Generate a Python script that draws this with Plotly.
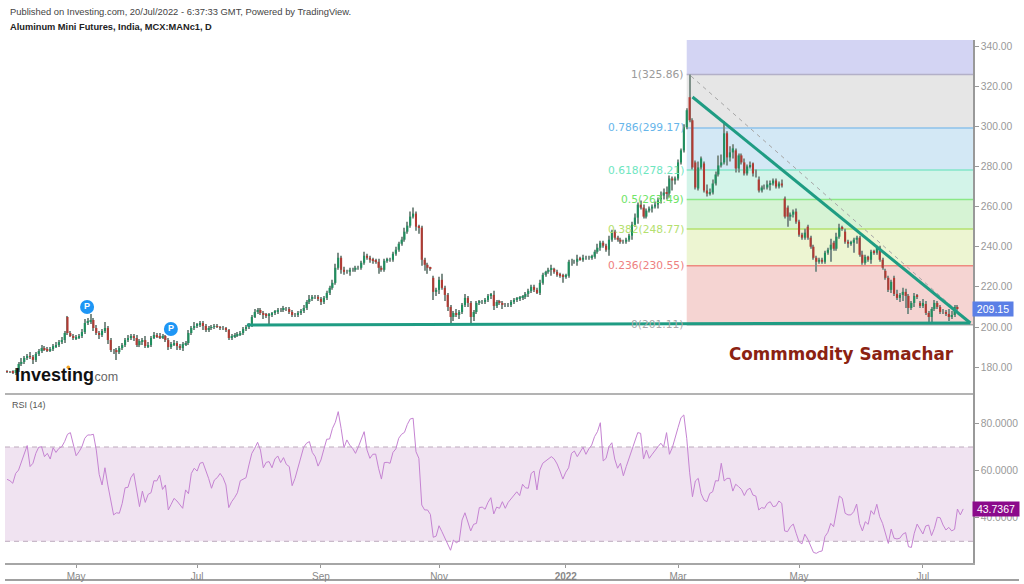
import numpy as np
import plotly.graph_objects as go

# ---- data -----------------------------------------------------------------
closes = [
 177.6,177.6,177.1,178.6,181.6,182.6,184.6,185.5,185.1,183.6,
 186.6,188,189.5,189,188.5,189,190.5,191,192.5,193.5,
 197,197,195.5,194.5,195,195.5,197.5,202,202.5,203.5,
 199.5,197,196,198,199.5,193.5,188.5,188.5,187.5,189.5,
 191,193.5,194.5,195.5,194.5,191,193,193.5,190.5,191,
 194.5,196,195.5,195,195.5,193.5,190,191.5,192,190.5,
 189.5,191.5,192,197,199.5,200.5,201,202,200.5,198.5,
 199.5,200,200.5,200,199.5,199.5,198.5,194.5,195.5,196,
 196.5,197,199,200,201,205,207.5,208.5,207,206,
 205.5,206,207,207.5,208.5,208.5,209,209,207.5,206,
 206,207,208,209.5,212.5,214,215,215,214,212.5,
 214.5,217,219.5,222,229.5,234.5,228.5,227.5,227.5,228.5,
 228.5,229.5,229.5,232,235.5,234.5,233.5,233,232.5,229.5,
 228.5,233,233.5,233.5,236.5,238.5,241.5,243.5,247.5,250.5,
 255,256.5,250,249.5,233.5,231,229.5,229,217.5,218.5,
 223.5,219.5,216,210,205,207,206,207.5,211,214.5,
 212,205,207.5,212,212.5,212.5,213.5,215.5,216,210.5,
 212.5,212,211,211,211,212.5,213.5,214,214.5,215,
 216.5,218,220,218.5,217,222,226,227.5,228.5,229,
 227.5,226,225.5,225,225.5,232.5,232.5,232.5,234,233.5,
 234.5,234.5,234.5,235,237.5,239.5,242,240.5,238.5,243.5,
 247.5,244.5,243.5,242.5,242.5,243.5,245.5,251,254.5,261,
 259.5,255,258,259,260,261,263,265.5,267,266.5,
 274,273,274,282,288,299.5,308,303,279.5,269.5,
 279.5,284,268,266.5,267,271.5,276,280.5,282,296.5,
 284.5,287,289,279,285.5,282,276.5,280,280.5,276.5,
 276.5,268,269.5,269.5,271,271.5,273,270,271.5,270.5,
 255,255,256,257.5,252.5,246,244.5,247,244.5,240,
 234.5,232.5,233.5,232.5,237,238.5,241,239,245,249.5,
 249,242.5,241.5,242,243.5,244.5,236,232,235,233.5,
 237.5,237,239.5,233.5,229.5,224.5,218.5,222.5,216.5,214.5,
 216,217.5,215.5,209.5,212,215.5,215,210.5,212,207,
 205,209,212,210,207.5,207.5,206.5,205,206,210,209.15,
]
first_open = 177.9
open_gaps = {21:205, 116:234.5, 148:224.5, 237:314.5, 239:282, 240:269, 242:281.5,
             253:288, 259:281.5, 261:273.5, 270:264, 271:259.5, 278:250, 287:242,
             291:247.5, 305:228, 308:224.5, 317:212, 319:211.5}
wick_up = [
 .5,.5,.8,1,1,2,1,1,2,1, 1,1,1.5,1,1,1,1,1.5,1,1.5,
 1,.5,1,1,1,1,1.5,2,2,3, 1,1.5,1,1,3,1,1,.5,1,1,
 1,1,1.5,1,1,1.5,1,1,2,1.5, 1,1.5,1,1.5,1,.5,1,1,1.5,1,
 1,1,1,1.5,1,2,1,1,1,1, 1,1,1,1,.5,1,.5,.5,1,1,
 1,1,1,1,1,1,1.5,1,1,1, 1,1,.5,1,1,1,1.5,1,1,1,
 1,1,1,1.5,1,2,1,1,1,1, 1,1,1,1.5,2,2.5,1,1.5,1,1,
 1,1,1,1,2,1,1,1,1,1.5, 1,1,1,1,1,1.5,1,1.5,2,2,
 2.5,3,1,1,1,1,1,.5,1,1, 1.5,3,1,1,1,1,2,1,1,2,
 1,1,1,1,1,1,1,1,1,2, 1,1,1,1,1,1,1,1,1,1,
 1,1,1,1,1,1.5,1,.5,1,2, .5,1,1,1,1,1,1.5,1,2,1,
 1.5,1,1,1,1,2,1,1,1,2, 1,1,1,1,1,1,1,1.5,2,1,
 2,1.5,1,1,1,1.5,1.5,2,2,3, 1.5,1,1,1.5,1,1.5,1,1,1,1,
 3,1,1,3,2,2,1.5,5,4,6, 1,3,2,1,1,1,2,1,2,.5,
 2,1.5,1,1.5,2,1.5,1,1,1,2, 1,1,1,1,1.5,1,1,2,1,1,
 1,1,1,1,1,1,3,1,2,2, 1,1.5,1,1,1,1,1,2,1,.5,
 1,1,1,1,1,1,1,1,1,2, 1,2,1.5,1,1,1.5,1,1,2,1.5,
 1,1,1.5,1,1,1.5,1,2.5,2,1,1,
]
wick_dn = [
 .5,.5,.5,1,1,1,1,1,1,2, 1,1,1,1,1,1,1,1,1,1,
 1.5,1,.5,1,1,1,1,1,1,1, 1.5,1,2,1,1,2,1,2,4,1,
 1,1,1,1,1.5,1,1,2,1,1, 1,.5,1,1,1,1,1.5,1,1,2,
 1,1.5,1,1,1,1,1,1,2,1, 1,1,1,.5,1,1,1,1,1,1,
 1,1,1,1,1,1,.5,1,1,2, 1,4,1,1,1,1,1,1,1,1,
 1,1,1,1,1,1,1,1,1,1.5, 1,1,1,1,1,1,2,1.5,1,2,
 1,1,1,1,1,1,1.5,1.5,1,3, 1,1,1,1,1,1,1,1,1,1,
 1,1,2,3,3,3,3,1,4,2, 2,1,3,2,4,2,1,2,1,1,
 2,3,2,1,1,1,1,1,1.5,2, 1,1,2,1,1,1,1,1,1,1,
 1,1.5,1,1,.5,1,1,1,1,3, 1,1,1,3,1,1,2,1,2,.5,
 1,1,1,1,1,1,1.5,1,1,3, 1,1,1,1,1,1,1,2,1,3,
 1,1,1,1,2,1,2,1.5,2,3, 2,5,2,1,1,1,1,1,1,1,
 1,1,1,1.5,1,1,1,1,1,1, 4,2,3,2,2,1,1,1,1,1.5,
 2,1,1,1,1,3,1,1,1,1, 1,5,2,1.5,1,1,1,1,1,1,
 1,5,1,1,1,1,6,1,1,1, 1,1,2,1,5,2,1,1,1,1,
 2,1,1,1,1,1,1,1.5,1,1, 2,3,6,3,1,2,1,1,1,1,
 3,3,1,1,1,1,1,2,1,1,1,
]
rsi = [
 56.3,55.7,54.6,58.8,60.2,63.8,66.6,70.6,61.7,63.1,67.3,69.9,70.1,65.9,67.3,64.9,69.7,67.7,69.4,70.1,
 72.3,75.4,76.1,70.8,66.3,68,70.1,73.7,75.1,75.1,75.4,68.7,58.4,53.9,61.2,53.9,48.2,41.2,42.1,
 41.9,46.1,52.7,52.9,57,58.8,51,44.7,51.3,46.5,49.9,50.6,55.7,55.6,58.1,52,53.9,43.3,45.7,48.2,
 47.1,45.4,44,51.8,50.2,58.8,61,59.8,63.1,63.5,60.2,56.7,52.5,56,57,58.8,57,53.9,44.3,
 46.8,48.5,50.6,55.7,56.4,57,62.4,67.3,69.4,72,68.7,61.2,63.5,63.8,61.2,64.9,66.2,63.4,65.5,
 62.6,61.7,53.6,56.7,61,65.2,69.9,71.6,72.3,67.7,65.9,61.9,64.5,69,73.3,73.4,77.9,80.5,85,77.9,
 69.7,73,70.8,
 69.4,67.3,70.1,73.7,76.5,68.7,65.2,66.9,67,61,56.4,63.4,63.5,63.1,67.7,69.2,73.7,75.4,76.2,79.6,
 81.9,82.2,68,65.2,45.4,43.3,43.3,41.4,31.7,32.2,36.6,34.1,31.5,28.7,26.2,30.5,29.4,30.1,39,
 42.1,38,34.4,37.2,37.6,44.3,44.5,43.6,46.5,48.5,41.6,44.5,44,46.8,44,46.5,47.9,49.2,51,
 49.4,54.2,52.7,52.5,58.8,59.8,51.8,60.2,63.1,64.1,64.9,65.9,64.9,62.8,59.8,56.4,59.3,61.2,67.3,68.3,
 65.9,67.7,69.9,66.9,69.2,70.8,74.4,76.5,80.3,64.1,65.2,70.1,71.8,64.9,61,63.1,57.8,61.7,65.5,
 69,72.5,76.1,75.8,64.9,68.7,65.2,66.9,68.7,70.1,71.6,70.1,76.1,66.9,69.7,74.4,78.3,82.4,83.6,
 73.7,59.3,48.9,55.6,56.7,
 50.2,47.5,46.8,50.3,51,55.7,55.6,63.1,55.6,56.7,56.7,51.3,54.2,53.2,52,49.4,51.8,52.5,49.6,49.2,
 43.3,44.3,44,46.1,46.8,44.7,45,47.1,46.1,34.4,34.1,36.2,37.3,33.4,29.8,28.9,33,31,28.4,25.3,
 24.9,25.6,25.9,32,33.8,37.6,36.2,43.3,49.2,48.2,41.9,41.2,41.2,42.6,45.8,37.6,34.4,38.3,37.2,43,
 41.4,45.7,40.4,37.6,33.4,29.1,35.2,31.3,31,31.3,33,33.7,27.7,27.4,33.4,37.3,35.2,33.1,36.5,36.9,
 32.4,35.5,40.2,40,36.9,34.8,35.9,34.4,35.1,43.7,41.2,43.7367,
]
tick_index = [24, 66, 109, 150, 194, 233, 275, 318]
tick_labels = ["May", "Jul", "Sep", "Nov", "<b>2022</b>", "Mar", "May", "Jul"]
price_ticks = [180, 200, 220, 240, 260, 280, 300, 320, 340]
rsi_ticks = [40, 60, 80]
fib_ratio = ["0", "0.236", "0.382", "0.5", "0.618", "0.786", "1"]
fib_price = [201.11, 230.55, 248.77, 263.49, 278.21, 299.17, 325.86]
fib_top = 345
fib_fill = ["#f5d4d2", "#edf5d2", "#d6f3d4", "#d3f4e9", "#d3e8f5", "#e6e6e6", "#d3d4f3"]
fib_line = ["#a9a9a9", "#ee8a80", "#b4e06e", "#8be886", "#83e6c9", "#8cc2ea", "#b3b0c8"]
fib_text = ["#a9a9a9", "#ee8080", "#b4e06e", "#6fe468", "#6fe6bf", "#66b5ea", "#9a9a9a"]
fib_start = 236
hline_x = [83.3, 334.5]; hline_y = [201.0, 202.0]
tline_x = [238, 334.5]; tline_y = [314.6, 202.0]
dline_x = [237.5, 335]; dline_y = [325.0, 201.5]
p_x = [27.8, 56.9]; p_y = [210, 199]

# ---- derived -------------------------------------------------------------
n = len(closes)
x = np.arange(n)
c = np.array(closes, float)
o = np.r_[first_open, c[:-1]]
for k, v in open_gaps.items():
    o[k] = v
hi = np.maximum(o, c) + np.array(wick_up)
lo = np.minimum(o, c) - np.array(wick_dn)
hi[237] = 325.86
up = c >= o
UP, DN = "#1f8f5f", "#b23a33"
body_col = [UP if u else DN for u in up]

W, H = 1024, 584
AX_R = 973
X_END = 335.4
def py(px): return 1 - px / H
def px(v): return v / W

fig = go.Figure()
fig.add_trace(go.Bar(x=x, y=hi - lo, base=lo, width=0.36, marker=dict(color="#7e8f88", line_width=0),
                     xaxis="x", yaxis="y", hoverinfo="skip", showlegend=False))
fig.add_trace(go.Bar(x=x, y=np.abs(c - o), base=np.minimum(o, c), width=0.72,
                     marker=dict(color=body_col, line_width=0), xaxis="x", yaxis="y",
                     hoverinfo="skip", showlegend=False))
fig.add_trace(go.Scatter(x=dline_x, y=dline_y, mode="lines", xaxis="x", yaxis="y",
                         line=dict(color="#a8a8a8", width=1, dash="4px,4px"), hoverinfo="skip", showlegend=False))
for xs, ys in ((hline_x, hline_y), (tline_x, tline_y)):
    fig.add_trace(go.Scatter(x=xs, y=ys, mode="lines", xaxis="x", yaxis="y",
                             line=dict(color="#1f9c83", width=3), hoverinfo="skip", showlegend=False))
fig.add_trace(go.Scatter(x=p_x, y=p_y, mode="markers+text", text=["<b>P</b>", "<b>P</b>"],
                         textposition="middle center", textfont=dict(color="white", size=9, family="Liberation Sans"),
                         marker=dict(color="#1e96f5", size=14), xaxis="x", yaxis="y",
                         hoverinfo="skip", showlegend=False))
# RSI
fig.add_trace(go.Scatter(x=np.arange(len(rsi)), y=rsi, mode="lines", xaxis="x2", yaxis="y2",
                         line=dict(color="#c583d2", width=1), hoverinfo="skip", showlegend=False))

shapes = []
tops = fib_price[1:] + [fib_top]
for b, t, f in zip(fib_price, tops, fib_fill):
    shapes.append(dict(type="rect", xref="x", yref="y", x0=fib_start, x1=X_END, y0=b, y1=t,
                       fillcolor=f, line_width=0, layer="below"))
for v, lc in zip(fib_price, fib_line):
    shapes.append(dict(type="line", xref="x", yref="y", x0=fib_start, x1=X_END, y0=v, y1=v,
                       line=dict(color=lc, width=1.5), layer="below"))
shapes.append(dict(type="rect", xref="paper", yref="y2", x0=px(5), x1=px(AX_R), y0=30, y1=70,
                   fillcolor="#f0e3f1", line_width=0, layer="below"))
for v in (30, 70):
    shapes.append(dict(type="line", xref="paper", yref="y2", x0=px(5), x1=px(AX_R), y0=v, y1=v,
                       line=dict(color="#bdaabd", width=1, dash="5px,4px"), layer="below"))
for x0, x1, yy, col, wd in ((5, AX_R, 394, "#9a9a9a", 1.5), (5, 1019, 580, "#808080", 1.5)):
    shapes.append(dict(type="line", xref="paper", yref="paper", x0=px(x0), x1=px(x1), y0=py(yy), y1=py(yy),
                       line=dict(color=col, width=wd)))
shapes.append(dict(type="circle", xref="paper", yref="paper", x0=px(66.5), x1=px(70), y0=py(369), y1=py(365.5),
                   fillcolor="#f5a623", line_width=0))

ann = []
def txt(xp, yp, s, size, color, family="Liberation Sans", anchor="left", **kw):
    ann.append(dict(xref="paper", yref="paper", x=px(xp), y=py(yp), text=s, showarrow=False, xanchor=anchor,
                    yanchor="middle", font=dict(size=size, color=color, family=family), borderpad=0, **kw))

txt(9, 12, "Published on Investing.com, 20/Jul/2022 - 6:37:33 GMT, Powered by TradingView.", 9.4, "#444444")
txt(9, 27, "<b>Aluminum Mini Futures, India, MCX:MANc1, D</b>", 9.28, "#222222")
txt(11, 405, "RSI (14)", 9, "#555555")
txt(14, 375, "<b>Investing</b>", 18, "#111111")
txt(90, 377, ".com", 12.5, "#666666")
txt(728, 354, "<b>Commmodity Samachar</b>", 16.8, "#8b2212", family="DejaVu Sans")
for r, v, tc in zip(fib_ratio, fib_price, fib_text):
    ann.append(dict(xref="x", yref="y", x=fib_start - 0.2, y=v, text=f"{r}({v:.2f})", showarrow=False,
                    xanchor="right", yanchor="middle", font=dict(size=10.7, color=tc, family="DejaVu Sans")))
ann.append(dict(xref="paper", yref="y", x=px(972), y=closes[-1], text=f"{closes[-1]:.2f}", showarrow=False, xanchor="left",
                yanchor="middle", bgcolor="#5b7fe6", borderpad=1, width=38,
                font=dict(size=10.5, color="white", family="Liberation Sans")))
ann.append(dict(xref="paper", yref="y2", x=px(972), y=rsi[-1], text=f"{rsi[-1]:.4f}", showarrow=False, xanchor="left",
                yanchor="middle", bgcolor="#8b0a8b", borderpad=1, width=44,
                font=dict(size=10.5, color="white", family="Liberation Sans")))

ax_font = dict(size=10.3, color="#999999", family="Liberation Sans")
fig.update_layout(
    width=W, height=H, autosize=False, margin=dict(l=0, r=0, t=0, b=0),
    paper_bgcolor="white", plot_bgcolor="white", barmode="overlay", showlegend=False,
    xaxis=dict(domain=[px(5), px(AX_R)], range=[-0.7, X_END], anchor="y", visible=False, fixedrange=True),
    yaxis=dict(domain=[py(394), py(40)], range=[200 + (327 - 394) / 2.007, 200 + (327 - 40) / 2.007],
               side="right", anchor="x", tickvals=price_ticks, ticktext=[f"{v:.2f}" for v in price_ticks],
               ticks="outside", ticklen=4, tickcolor="#999999", tickfont=ax_font, showgrid=False, zeroline=False,
               showline=True, linecolor="#999999", linewidth=1.5, fixedrange=True),
    xaxis2=dict(domain=[px(5), px(AX_R)], range=[-0.7, X_END], anchor="y2", tickvals=tick_index, ticktext=tick_labels,
                ticks="outside", ticklen=3, tickcolor="#999999", tickfont=dict(size=10, color="#888888", family="Liberation Sans"),
                showgrid=False, zeroline=False, showline=True, linecolor="#a6a6a6", linewidth=2, fixedrange=True),
    yaxis2=dict(domain=[py(563), py(394)], range=[30 - (563 - 541.3) / 2.357, 70 + (447 - 394) / 2.357],
                side="right", anchor="x2", tickvals=rsi_ticks, ticktext=[f"{v:.4f}" for v in rsi_ticks],
                ticks="outside", ticklen=4, tickcolor="#999999", tickfont=ax_font, showgrid=False, zeroline=False,
                showline=True, linecolor="#999999", linewidth=1.5, fixedrange=True),
    shapes=shapes, annotations=ann,
)
fig.write_html("out.html", config={"displayModeBar": False},
               post_script="document.body.style.margin='0';")
